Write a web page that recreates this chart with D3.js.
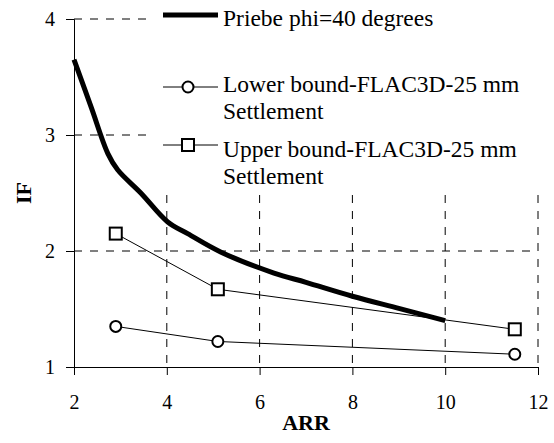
<!DOCTYPE html>
<html>
<head>
<meta charset="utf-8">
<script src="https://cdn.jsdelivr.net/npm/d3@7"></script>
<style>
  body { margin: 0; background: #fff; }
  svg { display: block; }
</style>
</head>
<body>
<div id="chart"></div>
<script>
// Priebe curve (phi = 40 degrees)
const priebeARR = [2, 2.37, 2.73, 2.94, 3.44, 4.02, 4.45, 5.17, 6.31, 7, 8, 9, 10];
const priebeIF = [3.65, 3.24, 2.84, 2.70, 2.50, 2.25, 2.15, 1.99, 1.81, 1.73, 1.61, 1.505, 1.40];

// FLAC3D bounds, 25 mm settlement
const flacARR = [2.9, 5.1, 11.5];
const lowerIF = [1.35, 1.22, 1.11];
const upperIF = [2.15, 1.67, 1.325];

const xTicks = [2, 4, 6, 8, 10, 12];
const yTicks = [1, 2, 3, 4];

const legendLabels = [
  ["Priebe phi=40 degrees"],
  ["Lower bound-FLAC3D-25 mm", "Settlement"],
  ["Upper bound-FLAC3D-25 mm", "Settlement"]
];

const FONT = "'Liberation Serif', 'Times New Roman', serif";

const W = 554, H = 443;
const margin = { top: 19, right: 16, bottom: 76, left: 74 },
  width = W - margin.left - margin.right,
  height = H - margin.top - margin.bottom;

const root = d3.select("#chart")
  .append("svg")
  .attr("width", W)
  .attr("height", H);

const svg = root.append("g")
  .attr("transform", `translate(${margin.left},${margin.top})`);

const x = d3.scaleLinear().domain([2, 12]).range([0, width]);
const y = d3.scaleLinear().domain([1, 4]).range([height, 0]);

// grid
svg.selectAll(".vgrid")
  .data(xTicks.slice(1))
  .join("line")
  .attr("x1", d => x(d)).attr("x2", d => x(d))
  .attr("y1", 0).attr("y2", height)
  .attr("stroke", "#000").attr("stroke-width", 1)
  .attr("stroke-dasharray", "8,8");

svg.selectAll(".hgrid")
  .data(yTicks.slice(1))
  .join("line")
  .attr("x1", 0).attr("x2", width)
  .attr("y1", d => y(d)).attr("y2", d => y(d))
  .attr("stroke", "#000").attr("stroke-width", 1)
  .attr("stroke-dasharray", "8,8");

// axes
const xAxis = svg.append("g")
  .attr("transform", `translate(0,${height})`)
  .call(d3.axisBottom(x).tickValues(xTicks).tickSize(8).tickPadding(20).tickFormat(d3.format("d")));

const yAxis = svg.append("g")
  .call(d3.axisLeft(y).tickValues(yTicks).tickSize(8).tickPadding(11).tickFormat(d3.format("d")));

[xAxis, yAxis].forEach(a => {
  a.select(".domain").attr("stroke", "#000");
  a.selectAll(".tick line").attr("stroke", "#000");
  a.selectAll("text")
    .attr("fill", "#000")
    .style("font-family", FONT)
    .style("font-size", "20px");
});

// series
const lineFn = d3.line().x(d => x(d[0])).y(d => y(d[1]));
const smooth = d3.line().x(d => x(d[0])).y(d => y(d[1])).curve(d3.curveCatmullRom.alpha(0.5));

const lower = flacARR.map((a, i) => [a, lowerIF[i]]);
const upper = flacARR.map((a, i) => [a, upperIF[i]]);
const priebe = priebeARR.map((a, i) => [a, priebeIF[i]]);

svg.append("path").datum(lower)
  .attr("fill", "none").attr("stroke", "#000").attr("stroke-width", 1)
  .attr("d", lineFn);
svg.append("path").datum(upper)
  .attr("fill", "none").attr("stroke", "#000").attr("stroke-width", 1)
  .attr("d", lineFn);

svg.append("path").datum(priebe)
  .attr("fill", "none").attr("stroke", "#000").attr("stroke-width", 5)
  .attr("stroke-linejoin", "round")
  .attr("d", smooth);

svg.selectAll(".circ")
  .data(lower)
  .join("circle")
  .attr("cx", d => x(d[0])).attr("cy", d => y(d[1]))
  .attr("r", 5.5)
  .attr("fill", "#fff").attr("stroke", "#000").attr("stroke-width", 2);

svg.selectAll(".sq")
  .data(upper)
  .join("rect")
  .attr("x", d => x(d[0]) - 6).attr("y", d => y(d[1]) - 6)
  .attr("width", 12).attr("height", 12)
  .attr("fill", "#fff").attr("stroke", "#000").attr("stroke-width", 2);

// axis titles
root.append("text")
  .attr("x", margin.left + width / 2).attr("y", 430)
  .attr("text-anchor", "middle")
  .style("font-family", FONT)
  .style("font-weight", "bold").style("font-size", "22px")
  .text("ARR");

root.append("text")
  .attr("transform", `translate(31,${margin.top + height / 2}) rotate(-90)`)
  .attr("text-anchor", "middle")
  .style("font-family", FONT)
  .style("font-weight", "bold").style("font-size", "22px")
  .text("IF");

// legend
const legend = root.append("g");
legend.append("rect")
  .attr("x", 150).attr("y", 0).attr("width", W - 150).attr("height", 190)
  .attr("fill", "#fff");

const legRowY = [15, 87, 145];
const legTextY = [26, 92, 157];
legendLabels.forEach((lines, i) => {
  const g = legend.append("g");
  g.append("line")
    .attr("x1", 163).attr("x2", 218).attr("y1", legRowY[i]).attr("y2", legRowY[i])
    .attr("stroke", "#000").attr("stroke-width", i === 0 ? 5 : 1);
  if (i === 1) {
    g.append("circle").attr("cx", 188).attr("cy", legRowY[i]).attr("r", 5.5)
      .attr("fill", "#fff").attr("stroke", "#000").attr("stroke-width", 2);
  } else if (i === 2) {
    g.append("rect").attr("x", 182).attr("y", legRowY[i] - 6).attr("width", 12).attr("height", 12)
      .attr("fill", "#fff").attr("stroke", "#000").attr("stroke-width", 2);
  }
  lines.forEach((t, j) => {
    g.append("text")
      .attr("x", 223).attr("y", legTextY[i] + j * 26.5)
      .style("font-family", FONT)
      .style("font-size", "23.5px")
      .text(t);
  });
});
</script>
</body>
</html>
